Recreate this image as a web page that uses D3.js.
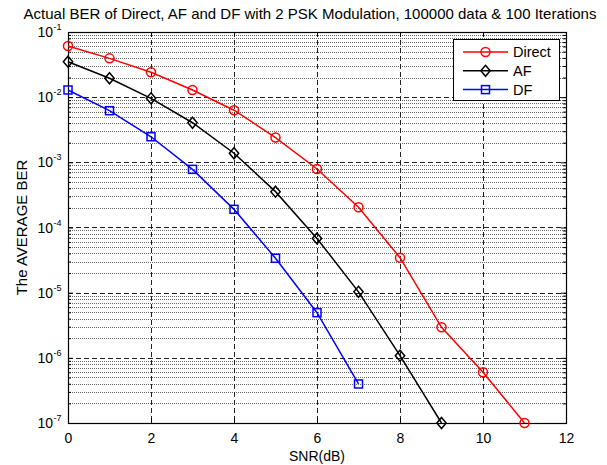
<!DOCTYPE html>
<html>
<head>
<meta charset="utf-8">
<script src="https://cdn.jsdelivr.net/npm/d3@7/dist/d3.min.js"></script>
<style>
  html, body { margin: 0; padding: 0; background: #fff; }
  svg { display: block; font-family: "Liberation Sans", Arial, Helvetica, sans-serif; }
</style>
</head>
<body>
<svg id="chart" width="607" height="465"></svg>
<script>
// ---- data ----
const snrDirect = [0, 1, 2, 3, 4, 5, 6, 7, 8, 9, 10, 11];
const berDirect = [0.061, 0.0394, 0.0241, 0.0129, 0.0063, 0.0024, 0.00079, 0.000204, 3.44e-5, 2.94e-6, 6.0e-7, 1.0e-7];
const snrAF = [0, 1, 2, 3, 4, 5, 6, 7, 8, 9];
const berAF = [0.035, 0.0195, 0.0096, 0.00405, 0.00138, 0.000355, 6.8e-5, 1.03e-5, 1.08e-6, 1.0e-7];
const snrDF = [0, 1, 2, 3, 4, 5, 6, 7];
const berDF = [0.0129, 0.0062, 0.00247, 0.00078, 0.00019, 3.37e-5, 4.93e-6, 3.97e-7];
const xTicks = [0, 2, 4, 6, 8, 10, 12];
const yExponents = [-1, -2, -3, -4, -5, -6, -7];
const seriesNames = ["Direct", "AF", "DF"];
const titleText = "Actual BER of Direct, AF and DF with 2 PSK Modulation, 100000 data & 100 Iterations";
const xLabel = "SNR(dB)";
const yLabel = "The AVERAGE BER";

// ---- layout ----
const L = 68, R = 566, T = 32, B = 423;
const svg = d3.select("#chart");
const x = d3.scaleLinear().domain([0, 12]).range([L, R]);
const y = d3.scaleLog().domain([1e-7, 1e-1]).range([B, T]);

// minor y values
const minorY = [];
for (let e = -7; e < -1; e++) for (let m = 2; m <= 9; m++) minorY.push(m * Math.pow(10, e));
const majorY = yExponents.map(e => Math.pow(10, e));

const grid = svg.append("g");
grid.selectAll("line.minor").data(minorY).enter().append("line")
  .attr("x1", L).attr("x2", R)
  .attr("y1", d => Math.round(y(d)) + 0.5).attr("y2", d => Math.round(y(d)) + 0.5)
  .attr("stroke", "#666").attr("stroke-width", 1).attr("stroke-dasharray", "1,1");
grid.selectAll("line.majorY").data(majorY.filter(v => v > 1e-7 && v < 1e-1)).enter().append("line")
  .attr("x1", L).attr("x2", R)
  .attr("y1", d => Math.round(y(d)) + 0.5).attr("y2", d => Math.round(y(d)) + 0.5)
  .attr("stroke", "#222").attr("stroke-width", 1).attr("stroke-dasharray", "5,3");
grid.selectAll("line.majorX").data(xTicks.filter(v => v > 0 && v < 12)).enter().append("line")
  .attr("x1", d => Math.round(x(d)) + 0.5).attr("x2", d => Math.round(x(d)) + 0.5)
  .attr("y1", T).attr("y2", B)
  .attr("stroke", "#222").attr("stroke-width", 1).attr("stroke-dasharray", "5,3");

// axes (inward ticks)
const axB = svg.append("g").attr("transform", `translate(0,${B})`)
  .call(d3.axisBottom(x).tickValues(xTicks).tickSizeInner(-5).tickSizeOuter(0).tickPadding(10).tickFormat(d3.format("d")));
svg.append("g").attr("transform", `translate(0,${T})`)
  .call(d3.axisTop(x).tickValues(xTicks).tickSizeInner(-5).tickSizeOuter(0).tickFormat(""));
svg.append("g").attr("transform", `translate(${L},0)`)
  .call(d3.axisLeft(y).tickValues(minorY).tickSizeInner(-3).tickSizeOuter(0).tickFormat(""));
svg.append("g").attr("transform", `translate(${R},0)`)
  .call(d3.axisRight(y).tickValues(minorY).tickSizeInner(-3).tickSizeOuter(0).tickFormat(""));
svg.append("g").attr("transform", `translate(${L},0)`)
  .call(d3.axisLeft(y).tickValues(majorY).tickSizeInner(-5).tickSizeOuter(0).tickFormat(""));
svg.append("g").attr("transform", `translate(${R},0)`)
  .call(d3.axisRight(y).tickValues(majorY).tickSizeInner(-5).tickSizeOuter(0).tickFormat(""));
svg.selectAll(".domain").remove();
svg.selectAll(".tick line").attr("stroke", "#000").attr("stroke-width", 1);
axB.selectAll(".tick text").attr("font-size", 14).attr("fill", "#000").attr("font-family", "Liberation Sans, Arial, sans-serif");

// y tick labels 10^e
const ylab = svg.append("g");
yExponents.forEach(e => {
  ylab.append("text").attr("x", 53).attr("y", y(Math.pow(10, e)) + 5)
    .attr("text-anchor", "end").attr("font-size", 14).attr("fill", "#000").text("10");
  ylab.append("text").attr("x", 53.5).attr("y", y(Math.pow(10, e)) - 2)
    .attr("font-size", 9).attr("fill", "#000").text(String(e));
});

// plot box
svg.append("rect").attr("x", L + 0.5).attr("y", T + 0.5).attr("width", R - L).attr("height", B - T)
  .attr("fill", "none").attr("stroke", "#000").attr("stroke-width", 1.2);

// series
const series = [
  { name: seriesNames[0], xs: snrDirect, ys: berDirect, color: "#ff0000", marker: "circle" },
  { name: seriesNames[1], xs: snrAF, ys: berAF, color: "#000000", marker: "diamond" },
  { name: seriesNames[2], xs: snrDF, ys: berDF, color: "#0000ff", marker: "square" }
];
const line = d3.line().x(d => x(d[0])).y(d => y(d[1]));
function drawMarker(g, type, cx, cy, color) {
  if (type === "circle") {
    g.append("circle").attr("cx", cx).attr("cy", cy).attr("r", 4.5)
      .attr("fill", "none").attr("stroke", color).attr("stroke-width", 1.5);
  } else if (type === "diamond") {
    const s = 5.5;
    g.append("path").attr("d", `M${cx},${cy - s}L${cx + s * 0.85},${cy}L${cx},${cy + s}L${cx - s * 0.85},${cy}Z`)
      .attr("fill", "none").attr("stroke", color).attr("stroke-width", 1.5);
  } else {
    const s = 4;
    g.append("rect").attr("x", cx - s).attr("y", cy - s).attr("width", 2 * s).attr("height", 2 * s)
      .attr("fill", "none").attr("stroke", color).attr("stroke-width", 1.5);
  }
}
const plotG = svg.append("g");
series.forEach(s => {
  const pts = s.xs.map((v, i) => [v, s.ys[i]]);
  plotG.append("path").datum(pts).attr("d", line)
    .attr("fill", "none").attr("stroke", s.color).attr("stroke-width", 1.5);
  pts.forEach(p => drawMarker(plotG, s.marker, x(p[0]), y(p[1]), s.color));
});

// legend
const lg = svg.append("g");
lg.append("rect").attr("x", 453.5).attr("y", 39.5).attr("width", 106).attr("height", 61)
  .attr("fill", "#fff").attr("stroke", "#000").attr("stroke-width", 1);
series.forEach((s, i) => {
  const ly = 52 + i * 18.8;
  lg.append("line").attr("x1", 463).attr("x2", 508).attr("y1", ly).attr("y2", ly)
    .attr("stroke", s.color).attr("stroke-width", 1.5);
  drawMarker(lg, s.marker, 485.5, ly, s.color);
  lg.append("text").attr("x", 513).attr("y", ly + 5).attr("font-size", 14.5).attr("fill", "#000").text(s.name);
});

// title and labels
svg.append("text").attr("x", 310).attr("y", 18.5).attr("text-anchor", "middle")
  .attr("font-size", 15).attr("fill", "#000").text(titleText);
svg.append("text").attr("x", 317).attr("y", 461).attr("text-anchor", "middle")
  .attr("font-size", 14).attr("fill", "#000").text(xLabel);
svg.append("text").attr("transform", `translate(27,${(T + B) / 2}) rotate(-90)`).attr("text-anchor", "middle")
  .attr("font-size", 15).attr("fill", "#000").text(yLabel);
</script>
</body>
</html>
